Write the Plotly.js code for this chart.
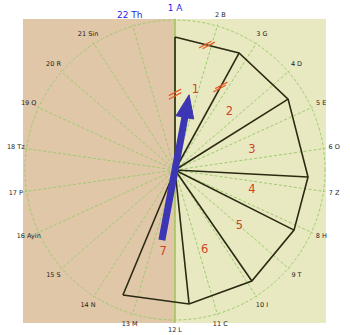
<!DOCTYPE html>
<html><head><meta charset="utf-8">
<script src="https://cdn.plot.ly/plotly-3.0.1.min.js"></script>
<style>html,body{margin:0;padding:0;background:#fff}#chart{width:350px;height:335px}</style>
</head><body><div id="chart"></div>
<script>
// ---- data ----
const categories = ['1 A','2 B','3 G','4 D','5 E','6 O','7 Z','8 H','9 T','10 I','11 C','12 L',
  '13 M','14 N','15 S','16 Ayin','17 P','18 Tz','19 Q','20 R','21 Sin','22 Th'];
const highlightedCategories = ['1 A','22 Th'];
// outer vertices of the fan (degrees clockwise from top, radius as fraction of outer circle)
const vertexTheta = [0, 28.7, 57.9, 93, 116.8, 145.3, 174, 202.6];
const vertexR = [0.887, 0.889, 0.89, 0.888, 0.889, 0.9, 0.898, 0.903];
const sectorLabels = ['1','2','3','4','5','6','7'];
const sectorLabelR = [0.55, 0.53, 0.53, 0.53, 0.57, 0.57, 0.55];
// resultant arrow
const arrowAngle = 10.6;
const arrowTipR = 0.51;
const arrowTailR = 0.475;
// equal-length hatch marks: edge endpoints (vertex index, -1 = centre) and position along edge
const hatchFrom = [-1, 0, -1];
const hatchTo = [0, 1, 1];
const hatchFraction = [0.57, 0.5, 0.71];
const categoryLabelR = 1.072;

// ---- helpers ----
const rad = d => d * Math.PI / 180;
const toXY = (r, t) => [r * Math.sin(rad(t)), r * Math.cos(rad(t))];
const toPolar = (x, y) => [Math.hypot(x, y), Math.atan2(x, y) * 180 / Math.PI];
const vXY = i => i < 0 ? [0, 0] : toXY(vertexR[i], vertexTheta[i]);

const traces = [];
// outline
traces.push({type:'scatterpolar', mode:'lines', r: vertexR, theta: vertexTheta,
  line:{color:'#2a2a12', width:1.6}, hoverinfo:'skip', showlegend:false});
// spokes
const sr = [], st = [];
vertexR.forEach((r, i) => { sr.push(0, r, null); st.push(vertexTheta[i], vertexTheta[i], null); });
traces.push({type:'scatterpolar', mode:'lines', r: sr, theta: st,
  line:{color:'#2a2a12', width:1.6}, hoverinfo:'skip', showlegend:false});
// sector labels
const labTheta = sectorLabels.map((s, i) => (vertexTheta[i] + vertexTheta[i + 1]) / 2);
traces.push({type:'scatterpolar', mode:'text', r: sectorLabelR, theta: labTheta, text: sectorLabels,
  textfont:{family:'DejaVu Sans', size:11.5, color:'#cf4526'}, hoverinfo:'skip', showlegend:false});
// hatch marks
const hr = [], ht = [];
hatchFraction.forEach((f, k) => {
  const a = vXY(hatchFrom[k]), b = vXY(hatchTo[k]);
  const dx = b[0] - a[0], dy = b[1] - a[1], L = Math.hypot(dx, dy);
  const px = a[0] + dx * f, py = a[1] + dy * f;
  [-0.012, 0.012].forEach(o => {
    const p = toPolar(px + dx / L * o, py + dy / L * o);
    hr.push(p[0]); ht.push(p[1]);
  });
});
traces.push({type:'scatterpolar', mode:'markers', r: hr, theta: ht,
  marker:{symbol:'line-ew', size:10, angle:-28, color:'#e8602a', line:{color:'#e8602a', width:1.3}},
  hoverinfo:'skip', showlegend:false});
// arrow
const headLen = 0.153, headHalf = 0.06;
const dir = toXY(1, arrowAngle), perp = [dir[1], -dir[0]];
const baseD = arrowTipR - headLen;
traces.push({type:'scatterpolar', mode:'lines', r:[arrowTailR, 0, baseD + 0.01],
  theta:[arrowAngle + 180, arrowAngle, arrowAngle],
  line:{color:'#3d36b4', width:7}, hoverinfo:'skip', showlegend:false});
const hx = [[dir[0]*arrowTipR, dir[1]*arrowTipR],
  [dir[0]*baseD + perp[0]*headHalf, dir[1]*baseD + perp[1]*headHalf],
  [dir[0]*baseD - perp[0]*headHalf, dir[1]*baseD - perp[1]*headHalf]];
const hp = hx.map(p => toPolar(p[0], p[1]));
traces.push({type:'scatterpolar', mode:'lines', fill:'toself', fillcolor:'#3d36b4',
  r: hp.map(p => p[0]).concat([hp[0][0]]), theta: hp.map(p => p[1]).concat([hp[0][1]]),
  line:{color:'#3d36b4', width:1}, hoverinfo:'skip', showlegend:false});

// category labels around the circle (centred at their angle) on a larger, invisible polar
const catTheta = categories.map((c, i) => i * 360 / categories.length);
[false, true].forEach(hi => {
  const idx = categories.map((c, i) => i).filter(i => highlightedCategories.includes(categories[i]) === hi);
  traces.push({type:'scatterpolar', subplot:'polar2', mode:'text', cliponaxis:false,
    r: idx.map(() => categoryLabelR), theta: idx.map(i => catTheta[i]), text: idx.map(i => categories[i]),
    textposition:'middle center',
    textfont:{family:'DejaVu Sans', size: hi ? 9 : 6.5, color: hi ? '#1f1fe6' : '#222222'},
    hoverinfo:'skip', showlegend:false});
});

const W = 350, H = 335, CX = 175, CY = 170, RAD = 151.5, RANGE = 1.01;
const RAD2 = 165, RANGE2 = RANGE * RAD2 / RAD;
const dom = R => ({x:[(CX - R)/W, (CX + R)/W], y:[Math.max(0, (H - CY - R)/H), Math.min(1, (H - CY + R)/H)]});
const hiddenAxes = {
  radialaxis:{range:[0, RANGE2], visible:false, showgrid:false},
  angularaxis:{rotation:90, direction:'clockwise', showticklabels:false, ticks:'', showline:false, showgrid:false}
};
const layout = {
  width: W, height: H, margin:{l:0, r:0, t:0, b:0}, paper_bgcolor:'#ffffff',
  showlegend:false,
  shapes:[
    {type:'rect', xref:'paper', yref:'paper', x0:23/W, x1:175/W, y0:12/H, y1:316/H,
     fillcolor:'#e0c7a8', line:{width:0}, layer:'below'},
    {type:'rect', xref:'paper', yref:'paper', x0:175/W, x1:326/W, y0:12/H, y1:316/H,
     fillcolor:'#e9e9c1', line:{width:0}, layer:'below'},
    {type:'line', xref:'paper', yref:'paper', x0:175/W, x1:175/W, y0:12/H, y1:316/H,
     line:{color:'#a9c455', width:1.5}, layer:'below'}
  ],
  polar:{
    domain: dom(RAD),
    bgcolor:'rgba(0,0,0,0)',
    radialaxis:{range:[0, RANGE], tickmode:'array', tickvals:[1], showticklabels:false, ticks:'',
      showline:false, showgrid:true, gridcolor:'#9dcb6f', griddash:'3px,2px', gridwidth:1},
    angularaxis:{rotation:90, direction:'clockwise', tickmode:'array', tickvals: catTheta,
      showticklabels:false, ticks:'', showline:false, showgrid:true, gridcolor:'#9dcb6f',
      griddash:'3px,2px', gridwidth:1}
  },
  polar2: Object.assign({domain: dom(RAD2), bgcolor:'rgba(0,0,0,0)'}, hiddenAxes)
};
Plotly.newPlot('chart', traces, layout, {displayModeBar:false, staticPlot:true});
</script></body></html>
